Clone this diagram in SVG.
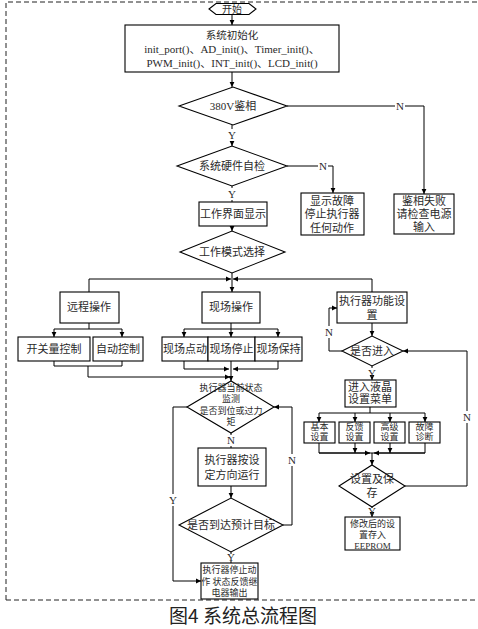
<svg xmlns="http://www.w3.org/2000/svg" width="478" height="629" viewBox="0 0 478 629">
<style>
.s{fill:#fff;stroke:#000;stroke-width:1.1}
.t{font-family:"Liberation Serif","Noto Sans CJK SC",serif;font-size:11px;fill:#2a2a2a;text-anchor:middle;dominant-baseline:central}
.sm{font-size:9px}
.c{fill:none;stroke:#000;stroke-width:1}
.b{fill:none;stroke:#222;stroke-width:1;stroke-dasharray:5 3}
.cap{font-family:"Noto Sans CJK SC",sans-serif;font-size:19px;fill:#222;text-anchor:middle}
</style>
<defs>
<marker id="a" markerWidth="6" markerHeight="6" refX="5" refY="3" orient="auto" markerUnits="userSpaceOnUse"><path d="M0,0.6 L5,3 L0,5.4z" fill="#000"/></marker>
</defs>
<path class="b" d="M6 600 V2 H478 M6 600 H478"/>

<g id="start"><polygon class="s" points="209,9 216,3.5 249,3.5 256,9 249,14.5 216,14.5"/><text class="t" x="232" y="9" style="font-size:10px">开始</text></g>
<g id="init"><rect class="s" x="125" y="25" width="214" height="47"/>
<text class="t" x="232" y="35" style="font-size:10.5px">系统初始化</text>
<text class="t" x="232" y="49">init_port()、AD_init()、Timer_init()、</text>
<text class="t" x="232" y="63">PWM_init()、INT_init()、LCD_init()</text></g>
<g id="phase"><polygon class="s" points="179,106 233,87 287,106 233,125"/><text class="t" x="233" y="106">380V鉴相</text></g>
<g id="phasefail"><rect class="s" x="394" y="194" width="60" height="40"/><text class="t" x="424" y="201">鉴相失败</text><text class="t" x="424" y="214">请检查电源</text><text class="t" x="424" y="227">输入</text></g>
<g id="selfcheck"><polygon class="s" points="177,166 232,146 287,166 232,186"/><text class="t" x="232" y="166">系统硬件自检</text></g>
<g id="fault"><rect class="s" x="301" y="193" width="63" height="42"/><text class="t" x="332" y="201">显示故障</text><text class="t" x="332" y="214">停止执行器</text><text class="t" x="332" y="228">任何动作</text></g>
<g id="ui"><rect class="s" x="199" y="202" width="68" height="24"/><text class="t" x="233" y="214">工作界面显示</text></g>
<g id="mode"><polygon class="s" points="180,252 232,231 285,252 232,273"/><text class="t" x="232" y="252">工作模式选择</text></g>
<g id="remote"><rect class="s" x="60" y="292" width="59" height="31"/><text class="t" x="89" y="307">远程操作</text></g>
<g id="local"><rect class="s" x="202" y="292" width="58" height="31"/><text class="t" x="231" y="307">现场操作</text></g>
<g id="funcset"><rect class="s" x="337" y="292" width="70" height="31"/><text class="t" x="372" y="301">执行器功能设</text><text class="t" x="372" y="315">置</text></g>
<g id="switch"><rect class="s" x="18" y="337" width="72" height="24"/><text class="t" x="54" y="349">开关量控制</text></g>
<g id="auto"><rect class="s" x="93" y="337" width="50" height="24"/><text class="t" x="118" y="349">自动控制</text></g>
<g id="jog"><rect class="s" x="162" y="337" width="46" height="24"/><text class="t" x="185" y="349">现场点动</text></g>
<g id="stop"><rect class="s" x="208" y="337" width="47" height="24"/><text class="t" x="231.5" y="349">现场停止</text></g>
<g id="hold"><rect class="s" x="255" y="337" width="47" height="24"/><text class="t" x="278.5" y="349">现场保持</text></g>
<g id="monitor"><polygon class="s" points="187,407 231,381 274,407 231,433"/>
<text class="t sm" x="231" y="388">执行器当前状态</text><text class="t sm" x="231" y="399">监测</text><text class="t sm" x="231" y="411">是否到位或过力</text><text class="t sm" x="231" y="422">矩</text></g>
<g id="run"><rect class="s" x="198" y="448" width="68" height="38"/><text class="t" x="232" y="460">执行器按设</text><text class="t" x="232" y="475">定方向运行</text></g>
<g id="target"><polygon class="s" points="179,525 231,498 283,525 231,552"/><text class="t" x="231" y="525">是否到达预计目标</text></g>
<g id="halt"><rect class="s" x="201" y="563" width="57" height="36"/><text class="t sm" x="229.5" y="570">执行器停止动</text><text class="t sm" x="229.5" y="582">作 状态反馈继</text><text class="t sm" x="229.5" y="593">电器输出</text></g>
<g id="enter"><polygon class="s" points="342,351 372,336 403,351 372,366"/><text class="t" x="372" y="351">是否进入</text></g>
<g id="lcdmenu"><rect class="s" x="345" y="380" width="51" height="27"/><text class="t" x="370" y="387">进入液晶</text><text class="t" x="370" y="399">设置菜单</text></g>
<g id="basic"><rect class="s" x="304" y="422" width="31" height="21"/><text class="t sm" x="319.5" y="427">基本</text><text class="t sm" x="319.5" y="437">设置</text></g>
<g id="feedback"><rect class="s" x="339" y="422" width="31" height="21"/><text class="t sm" x="354.5" y="427">反馈</text><text class="t sm" x="354.5" y="437">设置</text></g>
<g id="advanced"><rect class="s" x="374" y="422" width="31" height="21"/><text class="t sm" x="389.5" y="427">高级</text><text class="t sm" x="389.5" y="437">设置</text></g>
<g id="diag"><rect class="s" x="409" y="422" width="31" height="21"/><text class="t sm" x="424.5" y="427">故障</text><text class="t sm" x="424.5" y="437">诊断</text></g>
<g id="save"><polygon class="s" points="339,486 372,465 405,486 372,507"/><text class="t" x="372" y="479">设置及保</text><text class="t" x="372" y="493">存</text></g>
<g id="eeprom"><rect class="s" x="345" y="517" width="55" height="33"/><text class="t sm" x="372.5" y="524">修改后的设</text><text class="t sm" x="372.5" y="535">置存入</text><text class="t sm" x="372.5" y="546">EEPROM</text></g>

<g id="connectors">
<path class="c" marker-end="url(#a)" d="M232 14.5 V25"/>
<path class="c" marker-end="url(#a)" d="M232 72 V87"/>
<path class="c" d="M232 125 V129"/>
<path class="c" marker-end="url(#a)" d="M232 141 V146"/>
<path class="c" d="M287 106 H395"/>
<path class="c" marker-end="url(#a)" d="M405 106 H424 V194"/>
<path class="c" d="M287 166 H318"/>
<path class="c" marker-end="url(#a)" d="M328 166 H333 V193"/>
<path class="c" d="M232 186 V188"/>
<path class="c" d="M232 200 V202"/>
<path class="c" marker-end="url(#a)" d="M232 226 V231"/>
<path class="c" d="M232 273 V279"/>
<path class="c" marker-end="url(#a)" d="M89 279 H231"/>
<path class="c" marker-end="url(#a)" d="M372 279 H233"/>
<path class="c" d="M89 279 V292"/>
<path class="c" marker-end="url(#a)" d="M232 279 V292"/>
<path class="c" d="M372 279 V292"/>
<path class="c" d="M89 323 V329 M54 329 H122"/>
<path class="c" marker-end="url(#a)" d="M54 329 V337"/>
<path class="c" marker-end="url(#a)" d="M122 329 V337"/>
<path class="c" d="M54 361 V366 H122 V361"/>
<path class="c" marker-end="url(#a)" d="M88 366 V377 H230"/>
<path class="c" d="M231 323 V329 M184 329 H278"/>
<path class="c" marker-end="url(#a)" d="M184 329 V337"/>
<path class="c" marker-end="url(#a)" d="M231 329 V337"/>
<path class="c" marker-end="url(#a)" d="M278 329 V337"/>
<path class="c" marker-end="url(#a)" d="M184 361 V369 H229"/>
<path class="c" marker-end="url(#a)" d="M278 361 V369 H233"/>
<path class="c" marker-end="url(#a)" d="M231 361 V381"/>
<path class="c" d="M231 433 V435"/>
<path class="c" d="M231 446 V448"/>
<path class="c" marker-end="url(#a)" d="M231 486 V498"/>
<path class="c" d="M283 525 H292 V466"/>
<path class="c" marker-end="url(#a)" d="M292 454 V407 H274"/>
<path class="c" d="M231 552 V554"/>
<path class="c" d="M231 561 V563"/>
<path class="c" d="M187 407 H173 V494"/>
<path class="c" marker-end="url(#a)" d="M173 506 V581 H201"/>
<path class="c" marker-end="url(#a)" d="M372 323 V336"/>
<path class="c" d="M342 351 H329 V338"/>
<path class="c" marker-end="url(#a)" d="M329 326 V308 H337"/>
<path class="c" d="M372 366 V368"/>
<path class="c" marker-end="url(#a)" d="M372 378 V380"/>
<path class="c" d="M370 407 V413 M319 413 H425"/>
<path class="c" marker-end="url(#a)" d="M319 413 V422"/>
<path class="c" marker-end="url(#a)" d="M355 413 V422"/>
<path class="c" marker-end="url(#a)" d="M390 413 V422"/>
<path class="c" marker-end="url(#a)" d="M425 413 V422"/>
<path class="c" d="M319 443 V453 H425 V443"/>
<path class="c" marker-end="url(#a)" d="M355 443 V453"/>
<path class="c" marker-end="url(#a)" d="M390 443 V453"/>
<path class="c" marker-end="url(#a)" d="M319 453 H370"/>
<path class="c" marker-end="url(#a)" d="M425 453 H374"/>
<path class="c" marker-end="url(#a)" d="M372 453 V465"/>
<path class="c" d="M405 486 H467 V423"/>
<path class="c" marker-end="url(#a)" d="M467 411 V351 H403"/>
<path class="c" d="M372 507 V508"/>
<path class="c" marker-end="url(#a)" d="M372 515 V517"/>
</g>
<g id="labels">
<text class="t" x="232" y="135">Y</text>
<text class="t" x="400" y="106">N</text>
<text class="t" x="323" y="166">N</text>
<text class="t" x="232" y="194">Y</text>
<text class="t" x="231" y="440">N</text>
<text class="t" x="292" y="460">N</text>
<text class="t" x="231" y="557">Y</text>
<text class="t" x="173" y="500">Y</text>
<text class="t" x="329" y="332">N</text>
<text class="t" x="372" y="373">Y</text>
<text class="t" x="467" y="417">N</text>
<text class="t" x="372" y="511">Y</text>
</g>
<text class="cap" x="243" y="623">图4  系统总流程图</text>
</svg>
